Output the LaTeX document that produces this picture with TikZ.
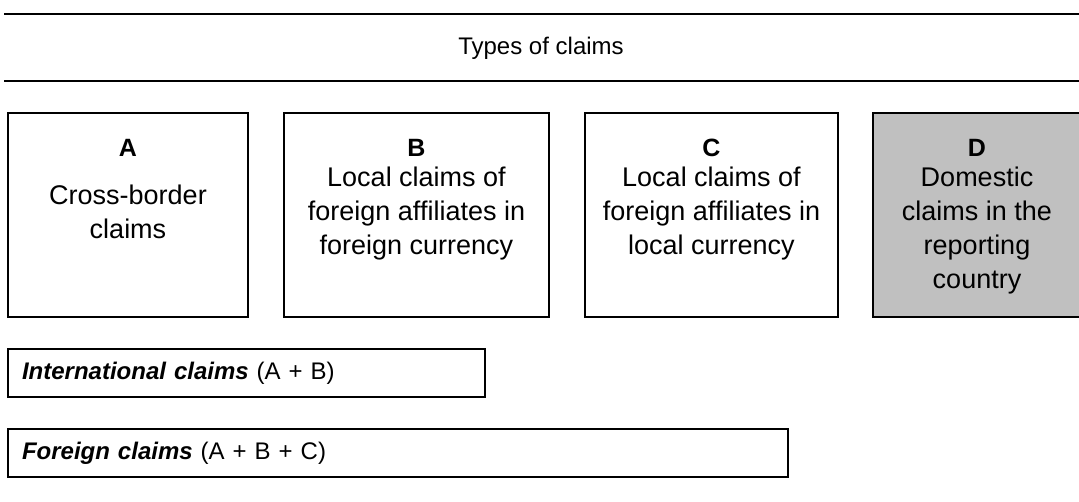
\documentclass[tikz,border=0pt]{standalone}
\usepackage{fontspec}
\setmainfont{Liberation Sans}
\usetikzlibrary{calc,positioning}
\definecolor{domgray}{RGB}{192,192,192}

\begin{document}
\begin{tikzpicture}[x=1pt,y=-1pt,node distance=36pt,
    claimbox/.style={draw,line width=2pt,outer sep=0pt,inner sep=0pt,minimum height=204pt},
    sumbox/.style={draw,line width=2pt,outer sep=0pt,inner xsep=14pt,minimum height=48pt,align=left},
    rule/.style={line width=2.5pt},
    letter/.style={font=\fontsize{25}{34}\selectfont\bfseries},
    body/.style={font=\fontsize{27}{34}\selectfont,align=center}]
  \useasboundingbox (0,0) rectangle (1079,501);

  \coordinate (top_l) at (4,14);
  \coordinate (top_r) at (1079,14);
  \coordinate (bot_l) at (4,81);
  \coordinate (bot_r) at (1079,81);
  \draw[rule] (top_l) -- (top_r);
  \draw[rule] (bot_l) -- (bot_r);
  \node[font=\fontsize{24}{30}\selectfont] (title) at (541,48) {Types of claims};

  %%%%

  \node[claimbox, minimum width=240pt, anchor=north west] (a) at (8,113) {};
  \node[claimbox, minimum width=265pt, right=of a] (b) {};
  \node[claimbox, minimum width=253pt, right=of b] (c) {};
  \node[claimbox, minimum width=220pt, right=35pt of c, fill=domgray] (d) {};

  \node[letter] (a_lbl) at ($(a.north)+(0,35)$) {A};
  \node[letter] (b_lbl) at ($(b.north)+(0,35)$) {B};
  \node[letter] (c_lbl) at ($(c.north)+(0,35)$) {C};
  \node[letter] (d_lbl) at ($(d.north west)+(104,35)$) {D};

  \node[body] (a_txt) at ($(a.north)+(0,99)$) {Cross-border\\claims};
  \node[body] (b_txt) at ($(b.north)+(0,101)$) {Local claims of\\foreign affiliates in\\foreign currency};
  \node[body] (c_txt) at ($(c.north)+(0,101)$) {Local claims of\\foreign affiliates in\\local currency};
  \node[body] (d_txt) at ($(d.north west)+(104,118)$) {Domestic\\claims in the\\reporting\\country};

  %%%%

  \node[sumbox, text width=449pt, anchor=north west, font=\fontsize{24}{30}\selectfont] (intl) at (8,349)
    {\textbf{\textit{International claims}} (A + B)};
  \node[sumbox, text width=752pt, below=32pt of intl.south west, anchor=north west, font=\fontsize{24}{30}\selectfont] (forgn)
    {\textbf{\textit{Foreign claims}} (A + B + C)};

\end{tikzpicture}
\end{document}
